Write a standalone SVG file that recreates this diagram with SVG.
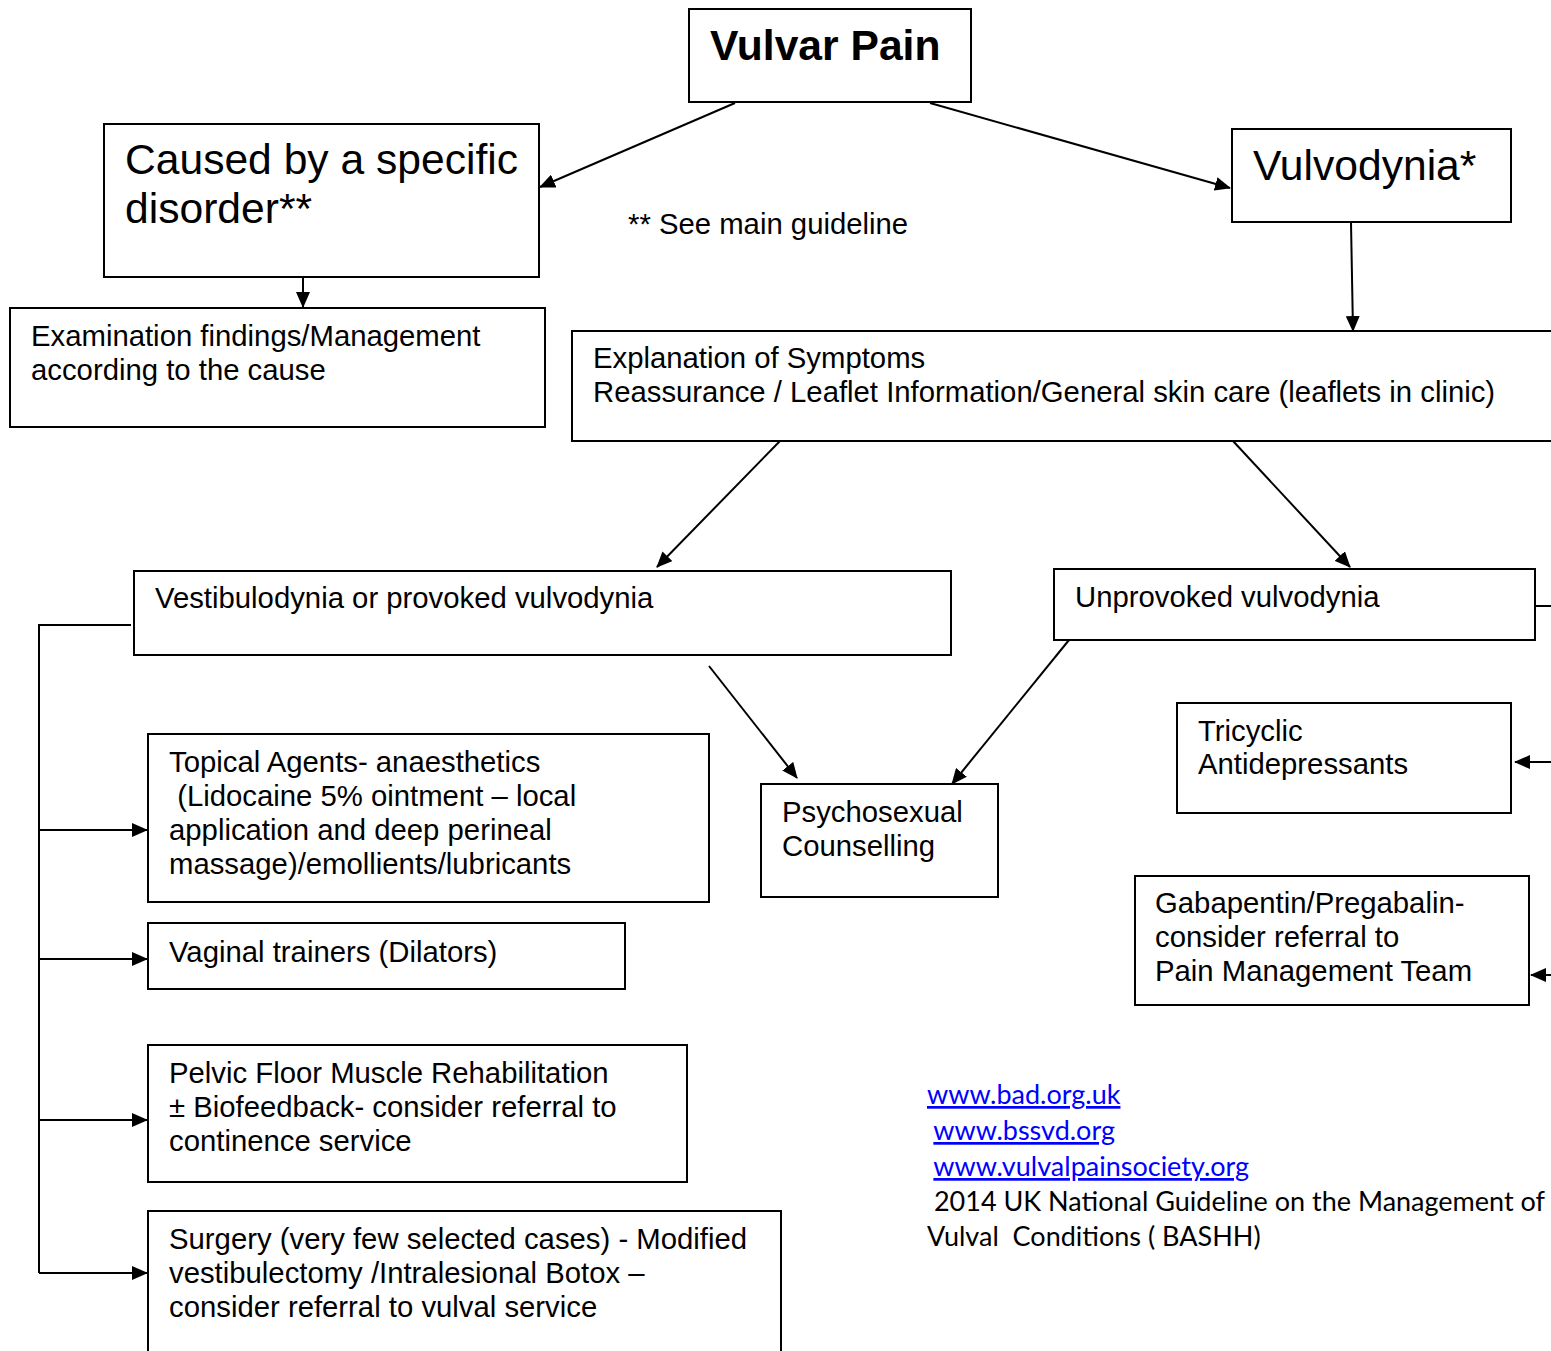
<svg xmlns="http://www.w3.org/2000/svg" width="1551" height="1351" viewBox="0 0 1551 1351" xml:space="preserve">
<defs>
<marker id="ah" markerUnits="userSpaceOnUse" markerWidth="16" markerHeight="14" refX="15" refY="7" orient="auto">
<path d="M0,0 L16,7 L0,14 Z" fill="#000"/>
</marker>
<style>
.box{fill:#fff;stroke:#000;stroke-width:2}
.t{font-family:"Liberation Sans",Arial,sans-serif;font-size:29.3px;fill:#000;white-space:pre}
.big{font-size:42.6px}
.b{font-weight:bold}
.ln{stroke:#000;stroke-width:2;fill:none}
.ar{stroke:#000;stroke-width:2;fill:none;marker-end:url(#ah)}
.c{font-family:Lato,"Open Sans",sans-serif;font-size:27px;fill:#000;white-space:pre}
.u{fill:#0000ff;text-decoration:underline}
</style>
</defs>
<rect width="1551" height="1351" fill="#fff"/>
<g id="connectors">
<line class="ar" x1="735" y1="103" x2="540" y2="187"/>
<line class="ar" x1="930" y1="103" x2="1230" y2="188"/>
<line class="ar" x1="303" y1="278" x2="303" y2="307"/>
<line class="ar" x1="1351" y1="223" x2="1353" y2="331"/>
<line class="ar" x1="780" y1="441" x2="657" y2="567"/>
<line class="ar" x1="1233" y1="441" x2="1350" y2="567"/>
<line class="ar" x1="709" y1="666" x2="797" y2="778"/>
<line class="ar" x1="1069" y1="640" x2="952" y2="784"/>
<polyline class="ln" points="131,625 39,625 39,1273"/>
<line class="ar" x1="39" y1="830" x2="147" y2="830"/>
<line class="ar" x1="39" y1="959" x2="147" y2="959"/>
<line class="ar" x1="39" y1="1120" x2="147" y2="1120"/>
<line class="ar" x1="39" y1="1273" x2="147" y2="1273"/>
<line class="ln" x1="1536" y1="606" x2="1551" y2="606"/>
<line class="ar" x1="1551" y1="762" x2="1515" y2="762"/>
<line class="ar" x1="1551" y1="975" x2="1531" y2="975"/>
</g>
<g id="vulvar-pain">
<rect class="box" x="689" y="9" width="282" height="93"/>
<text class="t big b" x="710" y="60">Vulvar Pain</text>
</g>
<g id="caused">
<rect class="box" x="104" y="124" width="435" height="153"/>
<text class="t big" x="125" y="174">Caused by a specific</text>
<text class="t big" x="125" y="223">disorder**</text>
</g>
<g id="note">
<text class="t" x="628" y="234">** See main guideline</text>
</g>
<g id="vulvodynia">
<rect class="box" x="1232" y="129" width="279" height="93"/>
<text class="t big" x="1253" y="180">Vulvodynia*</text>
</g>
<g id="examination">
<rect class="box" x="10" y="308" width="535" height="119"/>
<text class="t" x="31" y="346">Examination findings/Management</text>
<text class="t" x="31" y="380">according to the cause</text>
</g>
<g id="explanation">
<rect class="box" x="572" y="331" width="1000" height="110"/>
<text class="t" x="593" y="368">Explanation of Symptoms</text>
<text class="t" x="593" y="402">Reassurance / Leaflet Information/General skin care (leaflets in clinic)</text>
</g>
<g id="vestibulodynia">
<rect class="box" x="134" y="571" width="817" height="84"/>
<text class="t" x="155" y="608">Vestibulodynia or provoked vulvodynia</text>
</g>
<g id="unprovoked">
<rect class="box" x="1054" y="569" width="481" height="71"/>
<text class="t" x="1075" y="607">Unprovoked vulvodynia</text>
</g>
<g id="tricyclic">
<rect class="box" x="1177" y="703" width="334" height="110"/>
<text class="t" x="1198" y="741">Tricyclic</text>
<text class="t" x="1198" y="774">Antidepressants</text>
</g>
<g id="gabapentin">
<rect class="box" x="1135" y="876" width="394" height="129"/>
<text class="t" x="1155" y="913">Gabapentin/Pregabalin-</text>
<text class="t" x="1155" y="947">consider referral to</text>
<text class="t" x="1155" y="981">Pain Management Team</text>
</g>
<g id="psychosexual">
<rect class="box" x="761" y="784" width="237" height="113"/>
<text class="t" x="782" y="822">Psychosexual</text>
<text class="t" x="782" y="856">Counselling</text>
</g>
<g id="topical">
<rect class="box" x="148" y="734" width="561" height="168"/>
<text class="t" x="169" y="772">Topical Agents- anaesthetics</text>
<text class="t" x="169" y="806"> (Lidocaine 5% ointment – local</text>
<text class="t" x="169" y="840">application and deep perineal</text>
<text class="t" x="169" y="874">massage)/emollients/lubricants</text>
</g>
<g id="vaginal">
<rect class="box" x="148" y="923" width="477" height="66"/>
<text class="t" x="169" y="962">Vaginal trainers (Dilators)</text>
</g>
<g id="pelvic">
<rect class="box" x="148" y="1045" width="539" height="137"/>
<text class="t" x="169" y="1083">Pelvic Floor Muscle Rehabilitation</text>
<text class="t" x="169" y="1117">± Biofeedback- consider referral to</text>
<text class="t" x="169" y="1151">continence service</text>
</g>
<g id="surgery">
<rect class="box" x="148" y="1211" width="633" height="160"/>
<text class="t" x="169" y="1249">Surgery (very few selected cases) - Modified</text>
<text class="t" x="169" y="1283">vestibulectomy /Intralesional Botox –</text>
<text class="t" x="169" y="1317">consider referral to vulval service</text>
</g>
<g id="references">
<text class="c u" x="927" y="1104">www.bad.org.uk</text>
<text class="c" x="927" y="1140"> <tspan class="u">www.bssvd.org</tspan></text>
<text class="c" x="927" y="1176"> <tspan class="u">www.vulvalpainsociety.org</tspan></text>
<text class="c" x="927" y="1211"> 2014 UK National Guideline on the Management of</text>
<text class="c" x="927" y="1246">Vulval  Conditions ( BASHH)</text>
</g>
</svg>
